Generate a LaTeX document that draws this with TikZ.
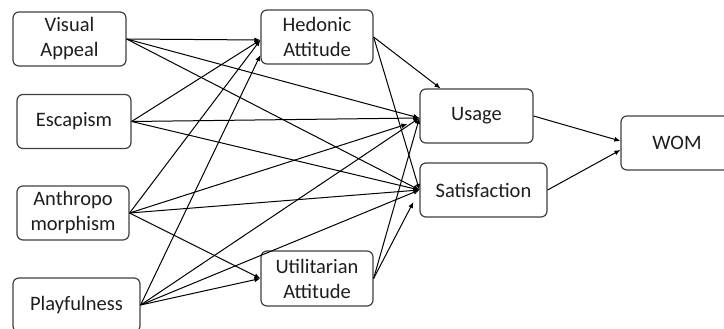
\documentclass[tikz,border=0pt]{standalone}
\usepackage{fontspec}
\setmainfont{Carlito}
\definecolor{boxgray}{RGB}{64, 64, 64}
\definecolor{textgray}{RGB}{30, 30, 30}
\usetikzlibrary{arrows.meta, positioning, calc}

\begin{document}
\begin{tikzpicture}[x=1pt, y=-1pt,
    factor/.style={draw=boxgray, line width=1.2pt, rounded corners=6pt, fill=white,
      minimum width=112pt, minimum height=54pt, align=center, inner sep=2pt,
      text=textgray, font=\fontsize{20.5}{25}\selectfont},
    path/.style={line width=1pt, -{Latex[length=6pt, width=5pt]}}]
  \clip (0,0) rectangle (724,329);

  % Antecedents (left column)
  \node[factor, minimum width=113pt] (visual) at (69.5, 39) {Visual\\Appeal};
  \node[factor, minimum width=114pt] (escape) at (74, 121.5) {Escapism};
  \node[factor] (anthro) at (73, 213) {Anthropo\\morphism};
  \node[factor, minimum width=127pt] (play) at (76.5, 305) {Playfulness};

  % Attitudes (middle column)
  \node[factor] (hedonic) at (317, 37) {Hedonic\\Attitude};
  \node[factor, minimum width=112pt, minimum height=55pt] (util) at (317, 278.5) {Utilitarian\\Attitude};

  % Outcomes
  \node[factor, minimum width=113pt] (usage) at (476.5, 116) {Usage};
  \node[factor, minimum width=127pt] (satis) at (483.5, 190) {Satisfaction};
  \node[factor] (wom) at (677, 143) {WOM};

  % Arrow end points
  \coordinate (hedin) at ([yshift=-3pt]hedonic.west);
  \coordinate (hedlow) at ([yshift=-18pt]hedonic.west);
  \coordinate (usein) at ([yshift=-2pt]usage.west);
  \coordinate (uselow) at ([xshift=-12pt, yshift=-8pt]usage.west);
  \coordinate (satin) at (satis.west);
  \coordinate (satlow) at ([xshift=-6pt, yshift=-12pt]satis.west);

  % Visual appeal
  \draw[path] (visual.east) -- (hedin);
  \draw[path] (visual.east) -- (usein);
  \draw[path] (visual.east) -- (satin);

  % Escapism
  \draw[path] (escape.east) -- (hedin);
  \draw[path] (escape.east) -- (usein);
  \draw[path] (escape.east) -- (satin);

  % Anthropomorphism
  \draw[path] (anthro.east) -- (hedin);
  \draw[path] (anthro.east) -- (uselow);
  \draw[path] (anthro.east) -- (satin);
  \draw[path] (anthro.east) -- (util.west);

  % Playfulness
  \draw[path] (play.east) -- (hedlow);
  \draw[path] (play.east) -- (usein);
  \draw[path] (play.east) -- (satin);
  \draw[path] (play.east) -- (util.west);

  % Attitudes to outcomes
  \draw[path] (hedonic.east) -- ([xshift=-36pt]usage.north);
  \draw[path] (hedonic.east) -- (satin);
  \draw[path] (util.east) -- (usein);
  \draw[path] (util.east) -- (satlow);

  % Word of mouth
  \draw[path] (usage.east) -- ([yshift=2pt]wom.west);
  \draw[path] (satis.east) -- ([yshift=-7pt]wom.west);
\end{tikzpicture}
\end{document}
